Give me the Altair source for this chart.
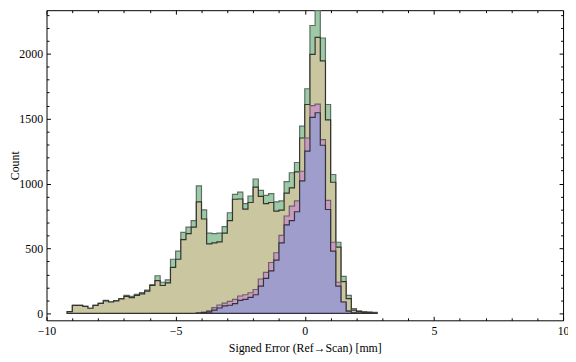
import altair as alt
import pandas as pd

# ---------------- data ----------------
BIN_START = -9.2          # left edge of the first bin
BIN_WIDTH = 0.2

# tan / green series: bins from -9.2 to 2.8
tan = [14, 62, 62, 55, 40, 62, 77, 96, 88, 96,
       112, 131, 121, 139, 150, 172, 215, 252, 215, 235,
       354, 417, 568, 614, 664, 859, 727, 535, 543, 551,
       619, 715, 879, 881, 803, 854, 972, 902, 846, 854,
       788, 795, 927, 967, 1090, 1351, 1609, 1995, 2126, 1944,
       1490, 1010, 510, 245, 114, 25, 15, 10, 8, 5]
green = [14, 62, 62, 55, 40, 62, 77, 100, 90, 98,
         115, 139, 131, 146, 160, 180, 222, 290, 240, 258,
         417, 480, 624, 664, 715, 982, 797, 619, 614, 619,
         669, 775, 917, 934, 846, 904, 1035, 947, 909, 922,
         859, 866, 1015, 1083, 1162, 1442, 1730, 2217, 2331, 2121,
         1609, 1070, 548, 285, 139, 38, 20, 12, 10, 8]

# pink / purple series: bins from -4.2 to 2.2
PINK_FIRST_BIN = 25
pink = [4, 10, 20, 45, 65, 80, 93, 108, 134, 144,
        159, 184, 265, 316, 392, 467, 601, 750, 826, 866,
        1095, 1351, 1600, 1612, 1339, 871, 548, 240, 88, 18,
        5, 2]
purple = [2, 6, 12, 25, 42, 58, 63, 76, 101, 108,
          124, 144, 210, 270, 328, 411, 543, 682, 715, 783,
          1020, 1250, 1510, 1545, 1295, 800, 480, 210, 88, 18,
          5, 2]

x_major = [-10, -5, 0, 5, 10]
x_minor = [-9, -8, -7, -6, -4, -3, -2, -1, 1, 2, 3, 4, 6, 7, 8, 9]
y_major = [0, 500, 1000, 1500, 2000]
y_minor = [100, 200, 300, 400, 600, 700, 800, 900, 1100, 1200, 1300, 1400,
           1600, 1700, 1800, 1900, 2100, 2200, 2300]


def steps(values, first_bin):
    xs = [round(BIN_START + BIN_WIDTH * (first_bin + i), 2) for i in range(len(values) + 1)]
    return pd.DataFrame({"x": xs, "count": list(values) + [0]})


df_green = steps(green, 0)
df_tan = steps(tan, 0)
df_pink = steps(pink, PINK_FIRST_BIN)
df_purple = steps(purple, PINK_FIRST_BIN)

# ---------------- chart ----------------
W, H = 523, 314
FONT = "Liberation Serif"
xs = alt.Scale(domain=[-10, 10], nice=False, zero=False)
ys = alt.Scale(domain=[-53, 2335], nice=False, zero=False)


def tick_axis(orient, offset, values, size):
    return alt.Axis(orient=orient, offset=offset, values=values, labels=False,
                    domain=False, ticks=True, tickSize=size, tickColor="black",
                    tickWidth=1, grid=False, title=None, zindex=2)


x_label_axis = alt.Axis(orient="bottom", values=x_major, ticks=False, domain=False,
                        grid=False, format="d", labelFont=FONT, labelFontSize=12,
                        labelColor="black", labelPadding=5, labelFlush=False,
                        title="Signed Error (Ref\u2192Scan) [mm]", titleFont=FONT,
                        titleFontSize=12, titleFontWeight="normal", titleColor="black",
                        titlePadding=7)
y_label_axis = alt.Axis(orient="left", values=y_major, ticks=False, domain=False,
                        grid=False, format="d", labelFont=FONT, labelFontSize=12,
                        labelColor="black", labelPadding=4, labelFlush=False,
                        title="Count", titleFont=FONT, titleFontSize=12,
                        titleFontWeight="normal", titleColor="black", titlePadding=-3)


def area(df, fill, stroke, xaxis, yaxis):
    return alt.Chart(df).mark_area(
        interpolate="step-after", fill=fill, fillOpacity=1,
        stroke=stroke, strokeWidth=1.2, strokeJoin="miter"
    ).encode(
        x=alt.X("x:Q", scale=xs, axis=xaxis),
        y=alt.Y("count:Q", scale=ys, axis=yaxis),
        y2=alt.datum(0),
    )


l_green = area(df_green, "#9dcaa6", "#5e6e61", x_label_axis, y_label_axis)
l_tan = area(df_tan, "#cac6a0", "#333330",
             tick_axis("top", -H, x_major, 4), tick_axis("right", -W, y_major, 4))
l_pink = area(df_pink, "#c99cbf", "#6d5f6a",
              tick_axis("top", -H, x_minor, 2.5), tick_axis("right", -W, y_minor, 2.5))
l_purple = area(df_purple, "#9f9dcc", "#33333d",
                tick_axis("bottom", -H, x_major, 4), tick_axis("left", -W, y_major, 4))
l_extra = alt.Chart(df_purple).mark_line(opacity=0).encode(
    x=alt.X("x:Q", scale=xs, axis=tick_axis("bottom", -H, x_minor, 2.5)),
    y=alt.Y("count:Q", scale=ys, axis=tick_axis("left", -W, y_minor, 2.5)),
)

chart = alt.layer(l_green, l_tan, l_pink, l_purple, l_extra).resolve_axis(
    x="independent", y="independent"
).properties(
    width=W, height=H,
    autosize=alt.AutoSizeParams(type="none"),
    padding={"left": 39, "top": 0, "right": 5, "bottom": 40},
    background="white",
).configure_view(stroke="black", strokeWidth=1)

chart.save("out.html", embed_options={"renderer": "svg", "actions": False})
